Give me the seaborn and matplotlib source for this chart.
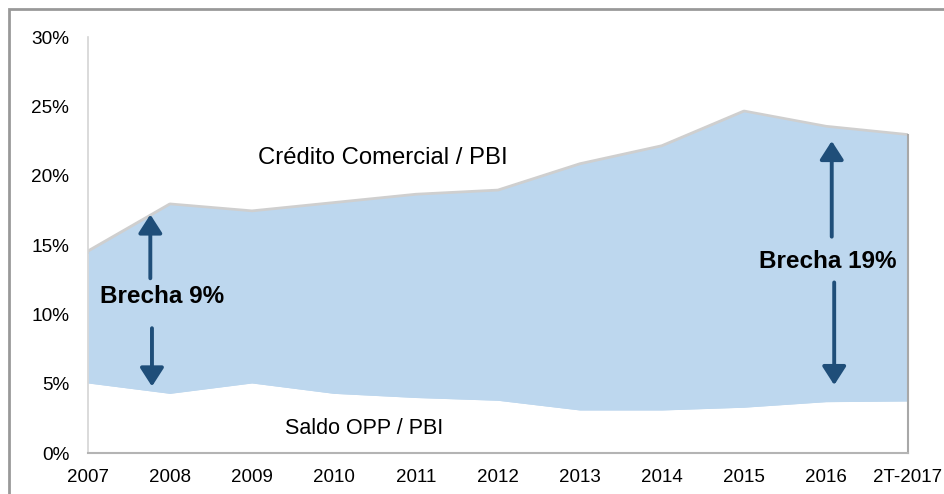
import matplotlib
matplotlib.use("Agg")
import matplotlib.pyplot as plt
import seaborn as sns
import pandas as pd
import numpy as np
from matplotlib.patches import Rectangle, FancyArrowPatch

# ---- data ----
years = ["2007", "2008", "2009", "2010", "2011", "2012", "2013", "2014", "2015", "2016", "2T-2017"]
credito_comercial_pbi = [14.5, 17.9, 17.4, 18.0, 18.6, 18.9, 20.8, 22.1, 24.6, 23.5, 22.9]
saldo_opp_pbi = [5.05, 4.3, 5.05, 4.3, 4.0, 3.8, 3.1, 3.1, 3.3, 3.7, 3.75]
y_ticks = [0, 5, 10, 15, 20, 25, 30]
y_tick_labels = ["0%", "5%", "10%", "15%", "20%", "25%", "30%"]

df = pd.DataFrame({"pos": np.arange(len(years)), "year": years,
                   "credito": credito_comercial_pbi, "saldo": saldo_opp_pbi})

sns.set_style("white")
plt.rcParams["font.family"] = ["Liberation Sans", "DejaVu Sans"]
plt.rcParams["text.color"] = "black"
plt.rcParams["xtick.color"] = "black"
plt.rcParams["ytick.color"] = "black"

fig = plt.figure(figsize=(9.45, 4.94), dpi=100)
ax = fig.add_axes([88 / 945, 1 - 453 / 494, (908 - 88) / 945, (453 - 37) / 494])

# shadow of upper edge
sns.lineplot(data=df, x="pos", y="credito", ax=ax, color="#cfcfcf", linewidth=3.2, zorder=1)
ax.fill_between(df["pos"], df["saldo"], df["credito"], color="#BDD7EE", linewidth=0, zorder=2)
sns.lineplot(data=df, x="pos", y="saldo", ax=ax, color="#BDD7EE", linewidth=0.6, zorder=2)

ax.set_xlim(0, len(years) - 1)
ax.set_ylim(0, 30)
ax.set_xticks(df["pos"])
ax.set_xticklabels(years)
ax.set_yticks(y_ticks)
ax.set_yticklabels(y_tick_labels)
ax.set_xlabel("")
ax.set_ylabel("")
ax.tick_params(axis="x", labelsize=13.5, pad=11.5, length=0, labelcolor="black")
ax.tick_params(axis="y", labelsize=13.7, pad=13.5, length=0, labelcolor="black")

ax.spines["top"].set_visible(False)
ax.spines["left"].set_color("#d4d4d4")
ax.spines["left"].set_linewidth(1.2)
ax.spines["bottom"].set_color("#b4b4b4")
ax.spines["bottom"].set_linewidth(1.5)
ax.spines["right"].set_color("#a8a8a8")
ax.spines["right"].set_linewidth(1.5)
ax.spines["right"].set_bounds(0, credito_comercial_pbi[-1])
for s in ax.spines.values():
    s.set_zorder(3)

# annotations
ax.text(3.59, 21.3, "Crédito Comercial / PBI", fontsize=17.2, ha="center", va="center",
        color="black", zorder=5)
ax.text(3.37, 1.8, "Saldo OPP / PBI", fontsize=15.5, ha="center", va="center",
        color="black", zorder=5)
ax.text(0.9, 11.3, "Brecha 9%", fontsize=17.5, fontweight="bold", ha="center", va="center",
        color="black", zorder=5)
ax.text(9.02, 13.8, "Brecha 19%", fontsize=17.5, fontweight="bold", ha="center", va="center",
        color="black", zorder=5)

arrow_color = "#1F4E79"
def arrow(x0, y0, x1, y1):
    a = FancyArrowPatch((x0, y0), (x1, y1), arrowstyle="-|>,head_length=7,head_width=4.5",
                        color=arrow_color, linewidth=2.8, mutation_scale=1.6, zorder=6,
                        shrinkA=0, shrinkB=0)
    ax.add_patch(a)

arrow(0.76, 12.6, 0.76, 17.2)
arrow(0.78, 9.0, 0.78, 4.8)
arrow(9.07, 15.6, 9.07, 22.5)
arrow(9.1, 12.3, 9.1, 4.9)

# figure border
fig.patches.append(Rectangle((9 / 945, -0.1), 1.2, 1 - 9 / 494 + 0.1, transform=fig.transFigure,
                             fill=False, edgecolor="#999999", linewidth=2, zorder=0))

fig.savefig("out.png", dpi=100, facecolor="white")
